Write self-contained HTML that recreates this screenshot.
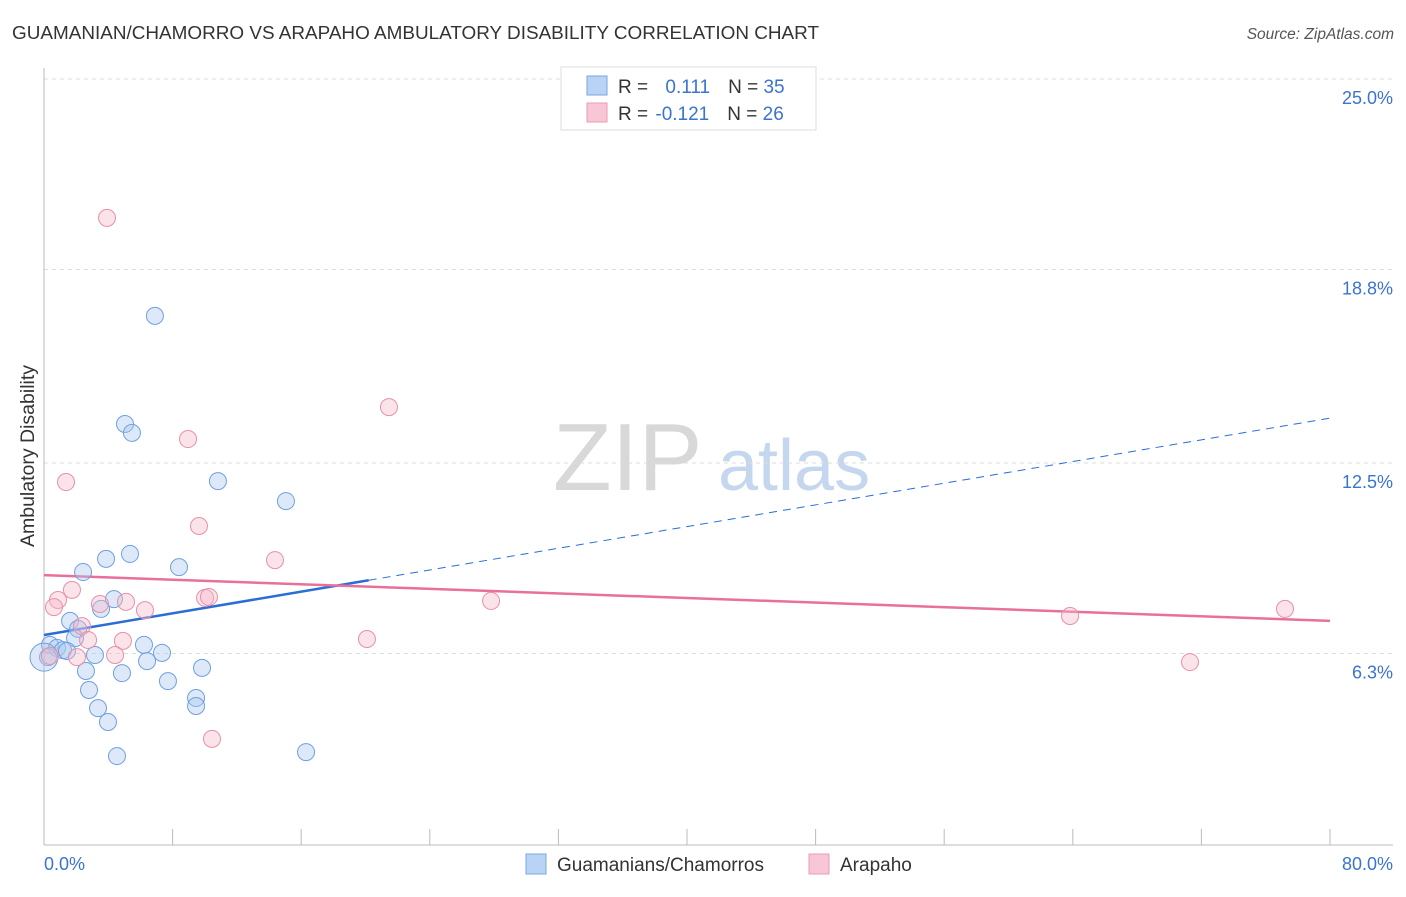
<!DOCTYPE html>
<html><head><meta charset="utf-8"><style>
body{margin:0;background:#fff;font-family:"Liberation Sans",sans-serif;}
svg text{font-family:"Liberation Sans",sans-serif;}
</style></head><body>
<svg id="chart" width="1406" height="892" xmlns="http://www.w3.org/2000/svg">
<text x="12" y="39" font-size="18" fill="#333" textLength="807" lengthAdjust="spacingAndGlyphs">GUAMANIAN/CHAMORRO VS ARAPAHO AMBULATORY DISABILITY CORRELATION CHART</text>
<text x="1394" y="39" font-size="15.5" fill="#555" text-anchor="end" font-style="italic">Source: ZipAtlas.com</text>
<g>
<text x="553" y="490" font-size="96" fill="#d8d8d8" font-family="Liberation Serif,serif">ZIP</text>
<text x="718" y="490" font-size="72" fill="#c5d7ef">atlas</text></g>
<g id="grid"></g>
<g id="axes"></g>
<g id="lines"></g>
<g id="pts"></g>
<text transform="translate(34,456) rotate(-90)" font-size="19.5" fill="#333" text-anchor="middle">Ambulatory Disability</text>
<g>
<rect x="561" y="67" width="255" height="63" fill="#fff" stroke="#ddd"/>
<rect x="587" y="76" width="20" height="19" fill="#b8d3f5" stroke="#7aa7e0"/>
<rect x="587" y="103" width="20" height="19" fill="#f9c6d5" stroke="#eb9bb4"/>
<text x="618" y="93" font-size="19" fill="#333">R = <tspan fill="#3a74d0" dx="12">0.111</tspan><tspan fill="#333" dx="18">N = </tspan><tspan fill="#3a74d0">35</tspan></text>
<text x="618" y="120" font-size="19" fill="#333">R = <tspan fill="#3a74d0" dx="2">-0.121</tspan><tspan fill="#333" dx="18">N = </tspan><tspan fill="#3a74d0">26</tspan></text>
</g>
<g>
<rect x="526" y="854" width="20" height="20" fill="#b8d3f5" stroke="#7aa7e0"/>
<text x="557" y="871" font-size="19" fill="#333">Guamanians/Chamorros</text>
<rect x="809" y="854" width="20" height="20" fill="#f9c6d5" stroke="#eb9bb4"/>
<text x="840" y="871" font-size="19" fill="#333">Arapaho</text>
</g>
</svg>
<script>
const yTicks=[6.3,12.5,18.8,25.0];
const yTickLabels=["6.3%","12.5%","18.8%","25.0%"];
const xTicks=[0,8,16,24,32,40,48,56,64,72,80];
const xLabels=["0.0%","80.0%"];
const blueX=[6.9,5.04,5.47,10.82,15.05,3.86,5.35,8.4,2.43,4.35,3.55,1.62,2.12,1.93,0.37,0.81,1.18,1.43,3.17,6.22,7.34,6.41,0.25,2.61,4.85,9.83,7.71,2.8,9.46,9.46,3.36,3.98,4.54,16.3,0];
const blueY=[17.29,13.77,13.48,11.91,11.26,9.38,9.54,9.11,8.95,8.07,7.75,7.36,7.1,6.8,6.58,6.48,6.41,6.38,6.25,6.58,6.32,6.05,6.18,5.73,5.66,5.83,5.4,5.11,4.85,4.59,4.52,4.07,2.96,3.09,6.18];
const pinkX=[3.92,21.46,8.96,1.37,9.64,14.37,1.74,0.87,0.62,3.48,5.1,6.28,10.02,10.26,27.81,2.36,2.74,4.91,20.09,2.05,0.37,4.42,10.45,63.83,77.2,71.29];
const pinkY=[20.48,14.32,13.28,11.88,10.45,9.34,8.37,8.04,7.81,7.91,7.98,7.71,8.11,8.14,8.01,7.19,6.74,6.71,6.77,6.18,6.22,6.25,3.52,7.52,7.75,6.02];
const blueTrend=[6.9,13.96];
const pinkTrend=[8.85,7.36];
const blueSolidEnd=20.2;
const sx=v=>44+v*16.075;
const sy=v=>847-v*30.72;
const NS="http://www.w3.org/2000/svg";
function mk(p,t,a){const e=document.createElementNS(NS,t);for(const k in a)e.setAttribute(k,a[k]);p.appendChild(e);return e;}
const grid=document.getElementById('grid'),axes=document.getElementById('axes'),lines=document.getElementById('lines'),pts=document.getElementById('pts');
yTicks.forEach((t,i)=>{
 const l=mk(grid,'line',{x1:44,x2:1393,y1:sy(t),y2:sy(t),stroke:'#ddd','stroke-dasharray':'4,4'});
 
 
 const tx=mk(axes,'text',{x:1393,y:sy(t)+25,'font-size':18,fill:'#3a74d0','text-anchor':'end'});
 tx.textContent=yTickLabels[i];
 
 
});
mk(axes,'line',{x1:44,x2:44,y1:68,y2:845,stroke:'#bbb'});
mk(axes,'line',{x1:44,x2:1393,y1:845,y2:845,stroke:'#bbb'});
xTicks.forEach(t=>{const l=mk(axes,'line',{x1:sx(t),x2:sx(t),y1:829,y2:845,stroke:'#bbb'});
 
 });
let a=mk(axes,'text',{x:44,y:870,'font-size':18,fill:'#3a74d0'});a.textContent=xLabels[0];


a=mk(axes,'text',{x:1393,y:870,'font-size':18,fill:'#3a74d0','text-anchor':'end'});a.textContent=xLabels[1];


function circ(x,y,f,s,name,r){const c=mk(pts,'circle',{cx:sx(x),cy:sy(y),r:r,fill:f,'fill-opacity':0.4,stroke:s,'stroke-width':1});
 
 }
blueX.forEach((x,i)=>circ(x,blueY[i],'#a9c8f0','#6fa0e0','point-guamanian',i===blueX.length-1?14:8.5));
pinkX.forEach((x,i)=>circ(x,pinkY[i],'#f5b8cb','#e890a8','point-arapaho',8.5));
const by=x=>blueTrend[0]+(blueTrend[1]-blueTrend[0])*x/80;
const py=x=>pinkTrend[0]+(pinkTrend[1]-pinkTrend[0])*x/80;
let l=mk(lines,'line',{x1:sx(0),y1:sy(by(0)),x2:sx(blueSolidEnd),y2:sy(by(blueSolidEnd)),stroke:'#2a6dd6','stroke-width':2.5});


l=mk(lines,'line',{x1:sx(blueSolidEnd),y1:sy(by(blueSolidEnd)),x2:sx(80),y2:sy(by(80)),stroke:'#2a6dd6','stroke-width':1,'stroke-dasharray':'8,6'});


l=mk(lines,'line',{x1:sx(0),y1:sy(py(0)),x2:sx(80),y2:sy(py(80)),stroke:'#e8709a','stroke-width':2.5});


</script>
</body></html>
